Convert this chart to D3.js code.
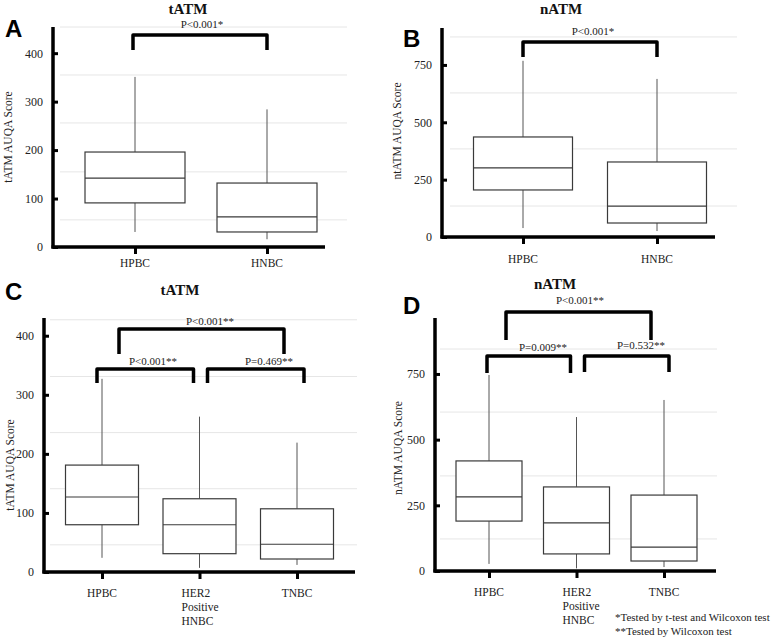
<!DOCTYPE html>
<html><head><meta charset="utf-8">
<script src="https://cdn.jsdelivr.net/npm/d3@7"></script>
<style>body{margin:0;background:#fff} svg{display:block}</style>
</head><body>
<svg id="chart" width="777" height="640"></svg>
<script>
// ---------------- data ----------------
const groupsAB = ["HPBC", "HNBC"];
const groupsCD = ["HPBC", "HER2 Positive HNBC", "TNBC"];
const labelLinesAB = [["HPBC"], ["HNBC"]];
const labelLinesCD = [["HPBC"], ["HER2", "Positive", "HNBC"], ["TNBC"]];
// five-number summaries: [min, q1, median, q3, max]
const tATM_A = [[31, 91, 142, 196, 351], [16, 31, 62, 132, 284]];
const nATM_B = [[39, 205, 301, 436, 768], [26, 61, 135, 327, 689]];
const tATM_C = [[24, 80, 127, 181, 327], [7, 31, 80, 124, 263], [12, 22, 47, 107, 219]];
const nATM_D = [[27, 190, 282, 419, 746], [10, 65, 183, 320, 586], [15, 38, 91, 289, 651]];
const ticksT = [0, 100, 200, 300, 400];
const ticksN = [0, 250, 500, 750];
const gridA = [56, 155, 256, 355, 454];
const gridB = [135, 384, 628, 872];
const gridC = [46, 141, 236, 331, 427];
const gridD = [122, 362, 605, 845];
const compA = [["HPBC", "HNBC", "P<0.001*"]];
const compB = [["HPBC", "HNBC", "P<0.001*"]];
const compC = [["HPBC", "TNBC", "P<0.001**"], ["HPBC", "HER2 Positive HNBC", "P<0.001**"], ["HER2 Positive HNBC", "TNBC", "P=0.469**"]];
const compD = [["HPBC", "TNBC", "P<0.001**"], ["HPBC", "HER2 Positive HNBC", "P=0.009**"], ["HER2 Positive HNBC", "TNBC", "P=0.532**"]];
const footnotes = ["*Tested by t-test and Wilcoxon test", "**Tested by Wilcoxon test"];

// ---------------- layout ----------------
const SERIF = "'Liberation Serif','Times New Roman',Times,serif";
const SANS = "'Liberation Sans',Arial,Helvetica,sans-serif";
const panels = [
  {letter:"A", title:"tATM", yLabel:"tATM AUQA Score", groups:groupsAB, lines:labelLinesAB, stats:tATM_A, ticks:ticksT, grid:gridA, comps:compA,
   x0:53, x1:325, gx0:60, gx1:347, top:27, bot:247, yMax:454, c0:135, c1:267, boxW:100,
   titleX:188, titleY:14, letX:5, letY:37, ylx:8, yly:137, catY:267, lineLeft:null,
   br:[{dx1:-2, dx2:0, y:35, leg:50, lx:202, ly:28}]},
  {letter:"B", title:"nATM", yLabel:"ntATM AUQA Score", groups:groupsAB, lines:labelLinesAB, stats:nATM_B, ticks:ticksN, grid:gridB, comps:compB,
   x0:442, x1:715, gx0:450, gx1:737, top:28, bot:237, yMax:911, c0:523, c1:657, boxW:99,
   titleX:561, titleY:14, letX:403, letY:47, ylx:397, yly:131, catY:263, lineLeft:null,
   br:[{dx1:0, dx2:0, y:42, leg:57, lx:593, ly:35}]},
  {letter:"C", title:"tATM", yLabel:"tATM AUQA Score", groups:groupsCD, lines:labelLinesCD, stats:tATM_C, ticks:ticksT, grid:gridC, comps:compC,
   x0:44, x1:355, gx0:50, gx1:357, top:318, bot:572, yMax:430, c0:102, c1:297, boxW:73,
   titleX:180, titleY:295, letX:5, letY:300, ylx:10, yly:465, catY:597, lineLeft:-18,
   br:[{dx1:17, dx2:-13, y:329, leg:354, lx:210, ly:325},
       {dx1:-5, dx2:-6, y:369, leg:383, lx:153, ly:365},
       {dx1:8, dx2:7, y:369, leg:383, lx:269, ly:365}]},
  {letter:"D", title:"nATM", yLabel:"nATM AUQA Score", groups:groupsCD, lines:labelLinesCD, stats:nATM_D, ticks:ticksN, grid:gridD, comps:compD,
   x0:435, x1:716, gx0:440, gx1:717, top:318, bot:571, yMax:963, c0:489, c1:664, boxW:66,
   titleX:555, titleY:289, letX:403, letY:314, ylx:398, yly:448, catY:596, lineLeft:-14,
   br:[{dx1:17, dx2:-13, y:312, leg:340, lx:580, ly:304},
       {dx1:-2, dx2:-6, y:356, leg:373, lx:543, ly:351},
       {dx1:8, dx2:5, y:356, leg:372, lx:641, ly:349}]}
];

const svg = d3.select("#chart");
svg.append("rect").attr("width", 777).attr("height", 640).attr("fill", "#fff");

panels.forEach(p => {
  const g = svg.append("g");
  const y = d3.scaleLinear().domain([0, p.yMax]).range([p.bot, p.top]);
  const x = d3.scalePoint().domain(p.groups).range([p.c0, p.c1]);

  // gridlines
  g.selectAll(".grid").data(p.grid).join("line")
    .attr("x1", p.gx0).attr("x2", p.gx1)
    .attr("y1", d => y(d)).attr("y2", d => y(d))
    .attr("stroke", "#e6e6e6").attr("stroke-width", 1);

  // boxes
  const bw = p.boxW;
  const box = g.selectAll(".box").data(p.stats).join("g")
    .attr("transform", (d, i) => `translate(${x(p.groups[i])},0)`);
  box.append("line").attr("x1", 0).attr("x2", 0)
    .attr("y1", d => y(d[4])).attr("y2", d => y(d[3]))
    .attr("stroke", "#555").attr("stroke-width", 1);
  box.append("line").attr("x1", 0).attr("x2", 0)
    .attr("y1", d => y(d[1])).attr("y2", d => y(d[0]))
    .attr("stroke", "#555").attr("stroke-width", 1);
  box.append("rect").attr("x", -bw / 2).attr("width", bw)
    .attr("y", d => y(d[3])).attr("height", d => y(d[1]) - y(d[3]))
    .attr("fill", "#fff").attr("stroke", "#3a3a3a").attr("stroke-width", 1.2);
  box.append("line").attr("x1", -bw / 2).attr("x2", bw / 2)
    .attr("y1", d => y(d[2])).attr("y2", d => y(d[2]))
    .attr("stroke", "#3a3a3a").attr("stroke-width", 1.2);

  // y axis
  const yAxis = d3.axisLeft(y).tickValues(p.ticks).tickSize(-5).tickPadding(10).tickSizeOuter(0);
  const ya = g.append("g").attr("transform", `translate(${p.x0},0)`).call(yAxis);
  ya.select(".domain").remove();
  ya.selectAll(".tick line").attr("stroke", "#000").attr("stroke-width", 3);
  ya.selectAll(".tick text").attr("font-family", SERIF).attr("font-size", 12).attr("fill", "#222");
  g.append("line").attr("x1", p.x0).attr("x2", p.x0).attr("y1", p.top).attr("y2", p.bot + 1.5)
    .attr("stroke", "#000").attr("stroke-width", 3.5);

  // x axis
  const xAxis = d3.axisBottom(x).tickSize(7).tickFormat("").tickSizeOuter(0);
  const xa = g.append("g").attr("transform", `translate(0,${p.bot})`).call(xAxis);
  xa.select(".domain").remove();
  xa.selectAll(".tick line").attr("stroke", "#000").attr("stroke-width", 3);
  g.append("line").attr("x1", p.x0 - 1.5).attr("x2", p.x1).attr("y1", p.bot).attr("y2", p.bot)
    .attr("stroke", "#000").attr("stroke-width", 3.5);

  // category labels
  p.groups.forEach((grp, i) => {
    const lines = p.lines[i];
    const multi = lines.length > 1;
    const t = g.append("text")
      .attr("font-family", SERIF).attr("font-size", 11.5).attr("fill", "#222")
      .attr("text-anchor", multi ? "start" : "middle");
    lines.forEach((ln, j) => {
      t.append("tspan")
        .attr("x", multi ? x(grp) + p.lineLeft : x(grp))
        .attr("y", p.catY + j * 14)
        .text(ln);
    });
  });

  // brackets
  p.comps.forEach((c, i) => {
    const b = p.br[i];
    const xa1 = x(c[0]) + b.dx1, xa2 = x(c[1]) + b.dx2;
    g.append("path")
      .attr("d", `M${xa1},${b.leg}V${b.y}H${xa2}V${b.leg}`)
      .attr("fill", "none").attr("stroke", "#000").attr("stroke-width", 3.5)
      .attr("stroke-linejoin", "round");
    g.append("text").attr("x", b.lx).attr("y", b.ly)
      .attr("text-anchor", "middle").attr("font-family", SERIF).attr("font-size", 11)
      .attr("fill", "#222").text(c[2]);
  });

  // titles, letters, y labels
  g.append("text").attr("x", p.titleX).attr("y", p.titleY).attr("text-anchor", "middle")
    .attr("font-family", SERIF).attr("font-weight", "bold").attr("font-size", 15).attr("fill", "#111")
    .text(p.title);
  g.append("text").attr("x", p.letX).attr("y", p.letY)
    .attr("font-family", SANS).attr("font-weight", "bold").attr("font-size", 24).attr("fill", "#000")
    .text(p.letter);
  g.append("text").attr("transform", `translate(${p.ylx},${p.yly}) rotate(-90)`)
    .attr("text-anchor", "middle").attr("dy", "0.35em")
    .attr("font-family", SERIF).attr("font-size", 11.5).attr("fill", "#222")
    .text(p.yLabel);
});

// footnotes
svg.selectAll(".foot").data(footnotes).join("text")
  .attr("x", 615).attr("y", (d, i) => 621 + i * 14)
  .attr("font-family", SERIF).attr("font-size", 11).attr("fill", "#222")
  .text(d => d);
</script>
</body></html>
